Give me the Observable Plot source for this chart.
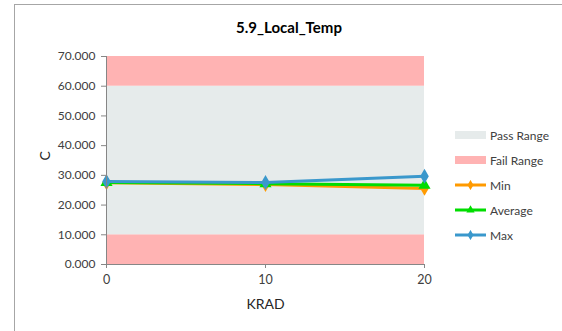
<!DOCTYPE html>
<html><head><meta charset="utf-8">
<script src="https://cdn.jsdelivr.net/npm/d3@7"></script>
<script src="https://cdn.jsdelivr.net/npm/@observablehq/plot@0.6"></script>
<style>
body{margin:0;background:#fff;font-family:Lato,"Open Sans",sans-serif;}
#wrap{position:relative;width:562px;height:331px;overflow:hidden;}
#frame{position:absolute;left:14px;top:4px;width:700px;height:500px;border-left:1px solid #a6a6a6;border-top:1px solid #a6a6a6;}
#title{position:absolute;left:189px;width:200px;top:18px;text-align:center;font-weight:bold;font-size:15px;color:#000;}
#chart{position:absolute;left:0;top:40px;}
#legend{position:absolute;left:455px;top:122.5px;font-size:12px;color:#404040;}
.row{height:25px;display:flex;align-items:center;}
.row svg{margin-right:4px;}
</style></head>
<body><div id="wrap"><div id="frame"></div><div id="title"></div><div id="chart"></div><div id="legend"></div></div>
<script>
const title = "5.9_Local_Temp";
const yLabel = "C";
const xLabel = "KRAD";
const krad = [0, 10, 20];
const minVals = [27.5, 26.9, 25.6];
const avgVals = [27.6, 27.2, 26.7];
const maxVals = [27.9, 27.6, 29.7];
const seriesNames = ["Min", "Average", "Max"];
const seriesColors = ["#FF9A00", "#00DD00", "#3A98CC"];
const seriesSymbols = ["diamond", "triangle", "diamond"];
const bandNames = ["Fail Range", "Pass Range", "Fail Range"];
const bandLow = [0, 10, 60];
const bandHigh = [10, 60, 70];
const bandColors = {"Pass Range": "#E6EBEB", "Fail Range": "#FFB3B3"};
const yTicks = [0, 10, 20, 30, 40, 50, 60, 70];
const xTicks = [0, 10, 20];

document.getElementById("title").textContent = title;

const bands = bandNames.map((n, i) => ({name: n, y1: bandLow[i], y2: bandHigh[i]}));
const seriesVals = [minVals, avgVals, maxVals];
const pts = [];
seriesNames.forEach((s, si) => krad.forEach((k, i) => pts.push({series: s, x: k, y: seriesVals[si][i]})));

const marks = [
  Plot.rectY(bands, {x1: krad[0], x2: krad[krad.length - 1], y1: "y1", y2: "y2", fill: d => bandColors[d.name]}),
];
seriesNames.forEach((s, si) => {
  const d = pts.filter(p => p.series === s);
  marks.push(Plot.line(d, {x: "x", y: "y", stroke: seriesColors[si], strokeWidth: 3}));
  marks.push(Plot.dot(d, {x: "x", y: "y", fill: seriesColors[si], symbol: seriesSymbols[si], r: 4.5, stroke: "none"}));
});
marks.push(Plot.ruleX([krad[0]], {stroke: "#868686"}));
marks.push(Plot.ruleY([0], {stroke: "#868686"}));
marks.push(Plot.axisY({ticks: yTicks, tickFormat: d => d.toFixed(3), tickSize: 5, tickPadding: 6, stroke: "#868686", label: null, fontSize: 12}));
marks.push(Plot.axisX({ticks: xTicks, tickFormat: d => String(d), tickSize: 4, tickPadding: 7, stroke: "#868686", label: null, fontSize: 12.5}));
marks.push(Plot.text([yLabel], {frameAnchor: "left", dx: -61, rotate: -90, fontSize: 14, fill: "#262626"}));
marks.push(Plot.text([xLabel], {frameAnchor: "bottom", dy: 44, fontSize: 14, fill: "#262626"}));

const chart = Plot.plot({
  width: 562,
  height: 291,
  marginLeft: 106,
  marginRight: 138,
  marginTop: 16,
  marginBottom: 67,
  style: {fontFamily: "Lato, 'Open Sans', sans-serif", fontSize: "12px", color: "#404040", background: "transparent", overflow: "visible"},
  x: {domain: [0, 20]},
  y: {domain: [0, 70]},
  marks
});
document.getElementById("chart").appendChild(chart);

// legend
const legend = document.getElementById("legend");
const items = [
  {name: "Pass Range", type: "rect", color: bandColors["Pass Range"]},
  {name: "Fail Range", type: "rect", color: bandColors["Fail Range"]},
  ...seriesNames.map((s, i) => ({name: s, type: "line", color: seriesColors[i], symbol: seriesSymbols[i]}))
];
items.forEach(it => {
  const row = document.createElement("div");
  row.className = "row";
  const svg = d3.create("svg").attr("width", 31).attr("height", 10);
  if (it.type === "rect") {
    svg.append("rect").attr("x", 0).attr("y", 1).attr("width", 31).attr("height", 8).attr("fill", it.color);
  } else {
    svg.append("line").attr("x1", 0).attr("x2", 31).attr("y1", 5).attr("y2", 5).attr("stroke", it.color).attr("stroke-width", 3);
    const sym = it.symbol === "triangle" ? d3.symbolTriangle : d3.symbolDiamond;
    svg.append("path").attr("d", d3.symbol(sym, 30)()).attr("transform", "translate(15.5,5)").attr("fill", it.color);
  }
  row.appendChild(svg.node());
  const t = document.createElement("span");
  t.textContent = it.name;
  row.appendChild(t);
  legend.appendChild(row);
});
</script>
</body></html>
